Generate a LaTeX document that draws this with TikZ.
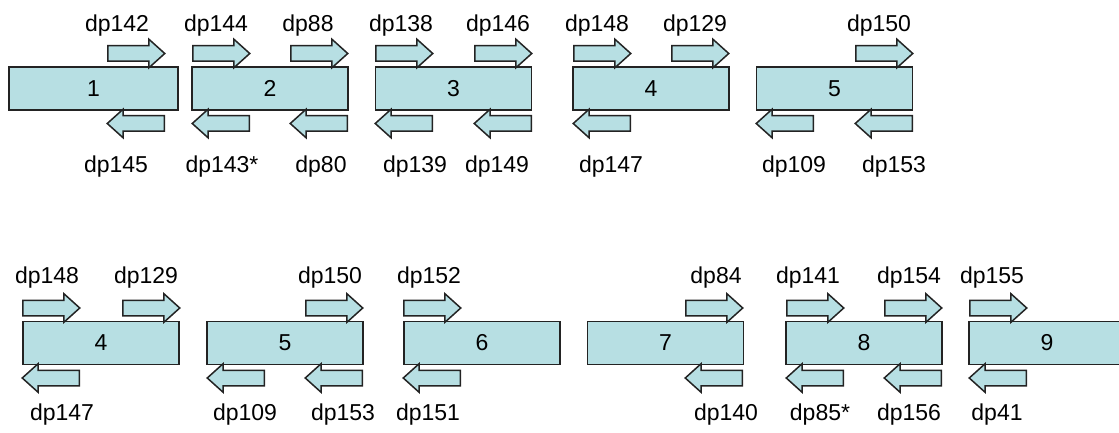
\documentclass[tikz,border=0pt]{standalone}
\usepackage{fontspec}
\setmainfont{Liberation Sans}
\usetikzlibrary{shapes.arrows}
\definecolor{segfill}{RGB}{183,223,227}
\definecolor{segline}{RGB}{35,35,35}

\begin{document}
\begin{tikzpicture}[x=1pt,y=1pt,font=\fontsize{23}{26}\selectfont,
  box node/.style={rectangle,draw=segline,fill=segfill,line width=1.4pt,
    minimum width=156pt,minimum height=43pt,inner sep=0pt},
  fwd arrow/.style={single arrow,draw=segline,fill=segfill,line width=1.5pt,
    minimum height=57pt,inner sep=7pt,single arrow head extend=6.5pt,
    single arrow tip angle=84,anchor=tail},
  rev arrow/.style={fwd arrow,shape border rotate=180},
  tag/.style={anchor=base,inner sep=0pt}]

  \clip (0,0) rectangle (1119,-433);

  % upper row of segments
  \node[box node,minimum width=169pt] (1) at (93.5,-88.5) {1};
  \node[box node] (2) at (270,-88.5) {2};
  \node[box node] (3) at (453.5,-88.5) {3};
  \node[box node] (4) at (651,-88.5) {4};
  \node[box node] (5) at (834.5,-88.5) {5};

  \node[fwd arrow] (dp142) at (107,-53.5) {};
  \node[fwd arrow] (dp144) at (192,-53.5) {};
  \node[fwd arrow] (dp88) at (290,-53.5) {};
  \node[fwd arrow] (dp138) at (375,-53.5) {};
  \node[fwd arrow] (dp146) at (474,-53.5) {};
  \node[fwd arrow] (dp148) at (573,-53.5) {};
  \node[fwd arrow] (dp129) at (671,-53.5) {};
  \node[fwd arrow] (dp150) at (855,-53.5) {};

  \node[rev arrow] (dp145) at (165,-123.5) {};
  \node[rev arrow] (dp143) at (250,-123.5) {};
  \node[rev arrow] (dp80) at (348,-123.5) {};
  \node[rev arrow] (dp139) at (433,-123.5) {};
  \node[rev arrow] (dp149) at (532,-123.5) {};
  \node[rev arrow] (dp147) at (631,-123.5) {};
  \node[rev arrow] (dp109) at (814,-123.5) {};
  \node[rev arrow] (dp153) at (913,-123.5) {};

  \node[tag] (t142) at (117,-32) {dp142};
  \node[tag] (t144) at (216,-32) {dp144};
  \node[tag] (t88) at (308,-32) {dp88};
  \node[tag] (t138) at (401,-32) {dp138};
  \node[tag] (t146) at (498,-32) {dp146};
  \node[tag] (t148) at (597,-32) {dp148};
  \node[tag] (t129) at (695,-32) {dp129};
  \node[tag] (t150) at (879,-32) {dp150};

  \node[tag] (t145) at (116,-172) {dp145};
  \node[tag] (t143) at (222,-172) {dp143*};
  \node[tag] (t80) at (321,-172) {dp80};
  \node[tag] (t139) at (415,-172) {dp139};
  \node[tag] (t149) at (497,-172) {dp149};
  \node[tag] (t147) at (611,-172) {dp147};
  \node[tag] (t109) at (794,-172) {dp109};
  \node[tag] (t153) at (894,-172) {dp153};

  % lower row of segments
  \node[box node] (4b) at (101,-343) {4};
  \node[box node] (5b) at (285,-343) {5};
  \node[box node] (6) at (482,-343) {6};
  \node[box node] (7) at (665.5,-343) {7};
  \node[box node] (8) at (864,-343) {8};
  \node[box node] (9) at (1047,-343) {9};

  \node[fwd arrow] (dp148b) at (22,-308) {};
  \node[fwd arrow] (dp129b) at (122,-308) {};
  \node[fwd arrow] (dp150b) at (305,-308) {};
  \node[fwd arrow] (dp152) at (403,-308) {};
  \node[fwd arrow] (dp84) at (685,-308) {};
  \node[fwd arrow] (dp141) at (786,-308) {};
  \node[fwd arrow] (dp154) at (884,-308) {};
  \node[fwd arrow] (dp155) at (969,-308) {};

  \node[rev arrow] (dp147b) at (80,-378) {};
  \node[rev arrow] (dp109b) at (265,-378) {};
  \node[rev arrow] (dp153b) at (363,-378) {};
  \node[rev arrow] (dp151) at (461,-378) {};
  \node[rev arrow] (dp140) at (743,-378) {};
  \node[rev arrow] (dp85) at (844,-378) {};
  \node[rev arrow] (dp156) at (942,-378) {};
  \node[rev arrow] (dp41) at (1027,-378) {};

  \node[tag] (t148b) at (47,-283) {dp148};
  \node[tag] (t129b) at (146,-283) {dp129};
  \node[tag] (t150b) at (330,-283) {dp150};
  \node[tag] (t152) at (429,-283) {dp152};
  \node[tag] (t84) at (716,-283) {dp84};
  \node[tag] (t141) at (808,-283) {dp141};
  \node[tag] (t154) at (909,-283) {dp154};
  \node[tag] (t155) at (992,-283) {dp155};

  \node[tag] (t147b) at (62,-420) {dp147};
  \node[tag] (t109b) at (245,-420) {dp109};
  \node[tag] (t153b) at (343,-420) {dp153};
  \node[tag] (t151) at (428,-420) {dp151};
  \node[tag] (t140) at (726,-420) {dp140};
  \node[tag] (t85) at (820,-420) {dp85*};
  \node[tag] (t156) at (909,-420) {dp156};
  \node[tag] (t41) at (997,-420) {dp41};
\end{tikzpicture}
\end{document}
